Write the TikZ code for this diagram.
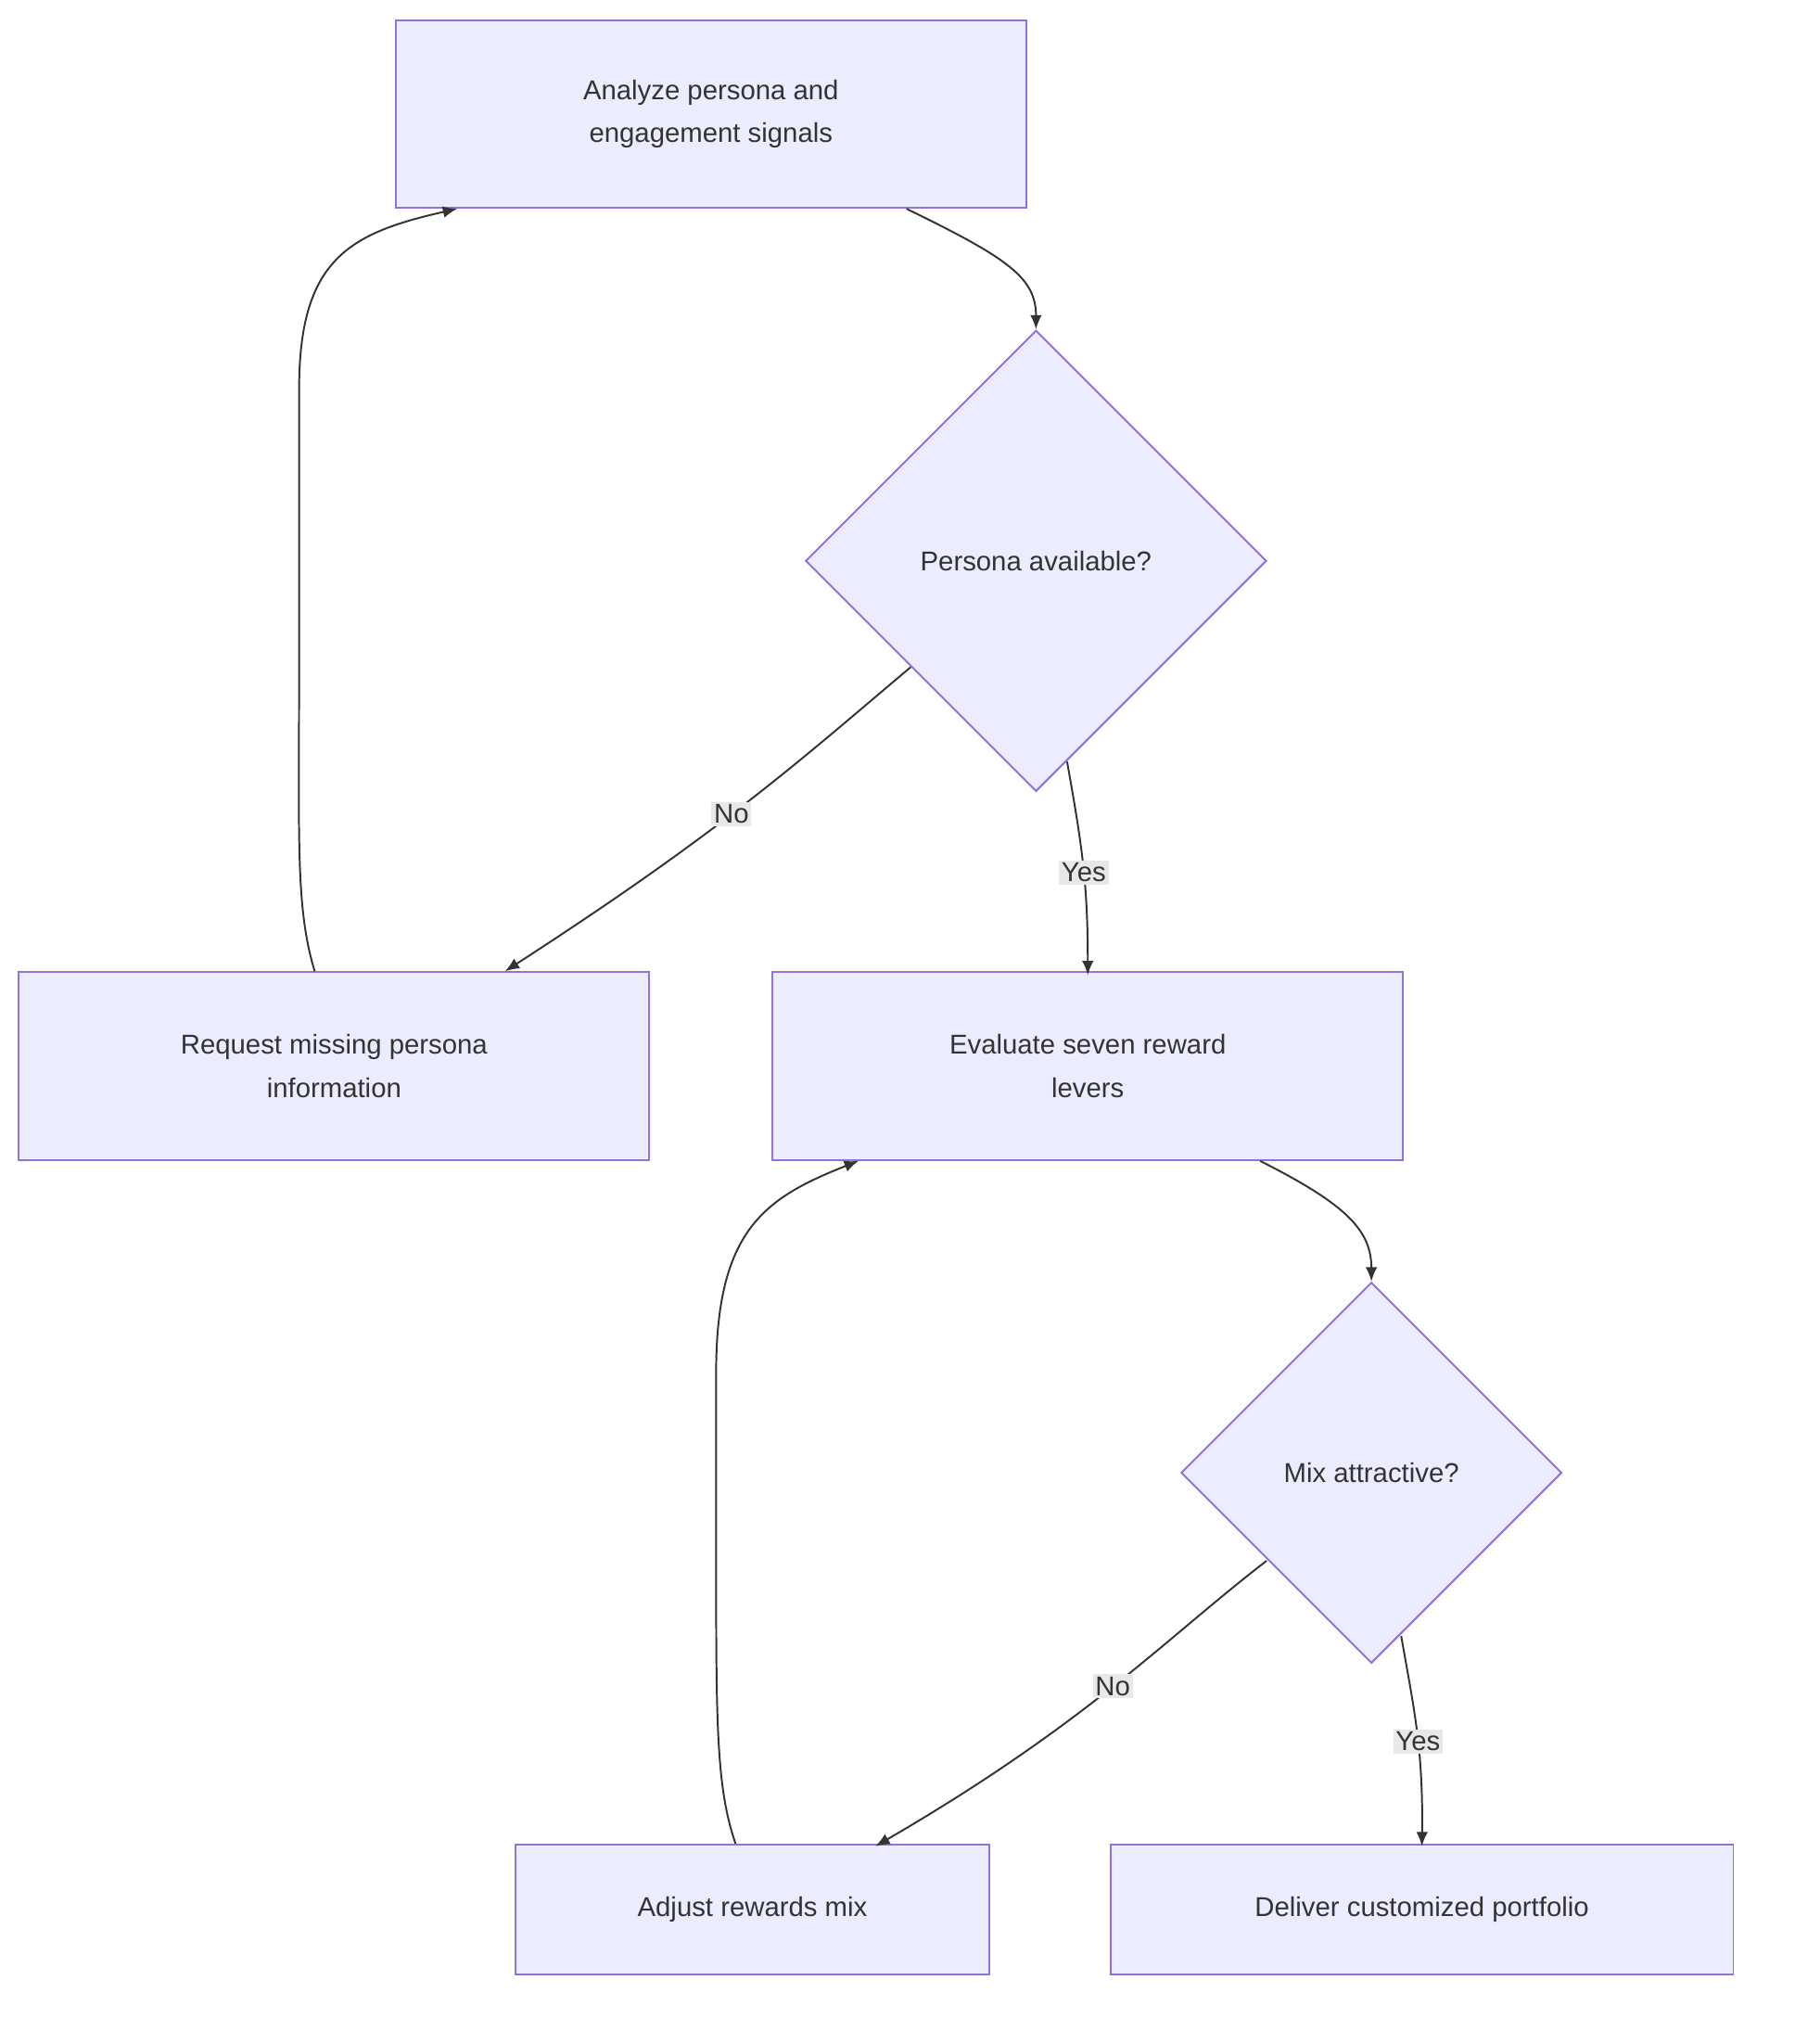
\documentclass[tikz,border=0pt]{standalone}
\usepackage{fontspec}
\setmainfont{Liberation Sans}
\usetikzlibrary{arrows.meta,shapes.geometric}
\definecolor{nfill}{HTML}{ECECFF}
\definecolor{nline}{HTML}{9370DB}
\definecolor{txt}{HTML}{333333}
\definecolor{lbg}{HTML}{E8E8E8}
\begin{document}
\begin{tikzpicture}[x=1pt,y=-1pt,
  box/.style={draw=nline,fill=nfill,line width=1.4pt,text=txt,align=center,font=\fontsize{21}{33}\selectfont,inner sep=0pt},
  dia/.style={draw=nline,fill=nfill,line width=1.4pt,diamond,aspect=1,text=txt,font=\fontsize{21}{33}\selectfont,inner sep=0pt},
  edge/.style={draw=txt,line width=1.4pt,-{Latex[length=11pt,width=9pt]}},
  lab/.style={fill=lbg,text=txt,font=\fontsize{21}{26}\selectfont,inner sep=2pt}]
\useasboundingbox (0,0) rectangle (1386,1578);
\node[box,minimum width=487pt,minimum height=145pt] (A) at (549,88) {Analyze persona and\\engagement signals};
\node[dia,minimum width=356pt,minimum height=356pt] (B) at (800,433) {Persona available?};
\node[box,minimum width=487pt,minimum height=145pt] (C) at (258,823) {Request missing persona\\information};
\node[box,minimum width=487pt,minimum height=145pt] (D) at (840,823) {Evaluate seven reward\\levers};
\node[dia,minimum width=294pt,minimum height=294pt] (E) at (1059,1137) {Mix attractive?};
\node[box,minimum width=366pt,minimum height=100pt] (F) at (581,1474) {Adjust rewards mix};
\node[box,minimum width=481pt,minimum height=100pt] (G) at (1098,1474) {Deliver customized portfolio};

\draw[edge] ([xshift=151pt]A.south) .. controls (780,200) and (800,215) .. (B.north);
\draw[edge] (B.west |- 0,515) ++(82,0) coordinate (b1) (b1) .. controls (620,585) and (560,640) .. node[lab,pos=0.55]{No} ([xshift=132pt]C.north);
\draw[edge] (824,588) coordinate (b2) (b2) .. controls (835,650) and (840,680) .. node[lab,pos=0.55]{Yes} ([yshift=-3pt]D.north);
\draw[edge] ([xshift=-15pt]C.north) .. controls (228,700) and (231,650) .. (231,500) -- (231,300) .. controls (231,200) and (270,180) .. ([xshift=-196pt]A.south);
\draw[edge] ([xshift=133pt]D.south) .. controls (1040,930) and (1059,950) .. (E.north);
\draw[edge] (978,1205) coordinate (e1) (e1) .. controls (900,1265) and (840,1330) .. node[lab,pos=0.5]{No} ([xshift=95pt,yshift=-2pt]F.north);
\draw[edge] (1082,1263) coordinate (e2) (e2) .. controls (1092,1320) and (1099,1350) .. node[lab,pos=0.55]{Yes} ([yshift=-2pt]G.north);
\draw[edge] ([xshift=-13pt]F.north) .. controls (553,1380) and (553,1330) .. (553,1200) -- (553,1060) .. controls (553,950) and (590,925) .. ([xshift=-177pt]D.south);
\end{tikzpicture}
\end{document}
